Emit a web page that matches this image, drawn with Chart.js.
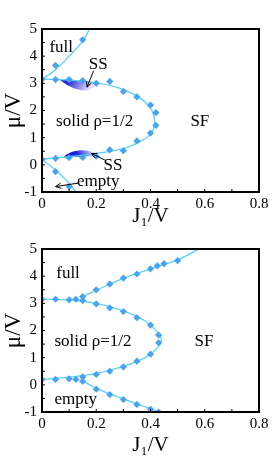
<!DOCTYPE html>
<html>
<head>
<meta charset="utf-8">
<script src="https://cdn.jsdelivr.net/npm/chart.js@4.4.0/dist/chart.umd.min.js"></script>
<style>
  html, body { margin: 0; padding: 0; background: #fff; }
  .box { position: absolute; left: 0; width: 273px; height: 229px; }
</style>
</head>
<body>
<div class="box" style="top:0"><canvas id="topChart" width="273" height="229"></canvas></div>
<div class="box" style="top:229px"><canvas id="bottomChart" width="273" height="229"></canvas></div>
<script>
// ---- top panel data ----
const topPtsJ  = [0, 0.05, 0.1, 0.15, 0.2, 0.25, 0.3, 0.35, 0.4, 0.42, 0.42, 0.4, 0.35, 0.3, 0.25, 0.2, 0.15, 0.1, 0.05, 0, 0.05, 0.15, 0.05, 0.1];
const topPtsMu = [3.15, 3.14, 3.14, 3.1, 3.0, 3.07, 2.7, 2.5, 2.2, 1.92, 1.45, 1.17, 0.88, 0.52, 0.55, 0.32, 0.27, 0.26, 0.24, 0.21, 3.66, 4.6, -0.25, -0.8];
const topCurveJ  = [0, 0.1, 0.2, 0.3, 0.37, 0.405, 0.415, 0.405, 0.37, 0.3, 0.2, 0.1, 0];
const topCurveMu = [3.15, 3.12, 3.02, 2.78, 2.4, 2.0, 1.6, 1.2, 0.9, 0.6, 0.42, 0.3, 0.21];
const topFullJ  = [0, 0.05, 0.1, 0.15, 0.175];
const topFullMu = [3.15, 3.5, 4.0, 4.55, 5.0];
const topEmptyJ  = [0, 0.05, 0.1, 0.124];
const topEmptyMu = [0.21, -0.2, -0.68, -1.0];
const ssUpJ  = [0.065, 0.1, 0.15, 0.2, 0.19, 0.165, 0.13, 0.09, 0.065];
const ssUpMu = [3.13, 3.12, 3.08, 3.02, 2.85, 2.74, 2.78, 2.96, 3.13];
const ssLowJ  = [0.078, 0.12, 0.16, 0.2, 0.19, 0.16, 0.12, 0.09, 0.078];
const ssLowMu = [0.27, 0.29, 0.31, 0.35, 0.45, 0.53, 0.5, 0.38, 0.27];

// ---- bottom panel data ----
const botPtsJ  = [0, 0.05, 0.1, 0.125, 0.15, 0.15, 0.2, 0.25, 0.3, 0.35, 0.4, 0.43, 0.43, 0.4, 0.35, 0.3, 0.25, 0.2, 0.15, 0.15, 0.125, 0.1, 0.05, 0,
                  0.2, 0.25, 0.3, 0.35, 0.4, 0.425, 0.45, 0.5, 0.2, 0.25, 0.3, 0.35, 0.4, 0.43];
const botPtsMu = [3.15, 3.15, 3.13, 3.15, 3.25, 3.1, 2.98, 2.83, 2.7, 2.47, 2.2, 1.83, 1.55, 1.13, 0.87, 0.66, 0.5, 0.38, 0.29, 0.13, 0.2, 0.22, 0.2, 0.2,
                  3.5, 3.71, 3.93, 4.08, 4.27, 4.38, 4.46, 4.57, -0.16, -0.36, -0.54, -0.72, -0.9, -1.0];
const botCurveJ  = [0, 0.1, 0.2, 0.3, 0.38, 0.425, 0.44, 0.425, 0.38, 0.3, 0.2, 0.1, 0];
const botCurveMu = [3.15, 3.12, 3.0, 2.72, 2.35, 1.95, 1.65, 1.35, 1.0, 0.68, 0.42, 0.28, 0.2];
const botFullJ  = [0.15, 0.2, 0.3, 0.4, 0.5, 0.58];
const botFullMu = [3.24, 3.48, 3.92, 4.27, 4.6, 5.0];
const botEmptyJ  = [0.15, 0.2, 0.3, 0.4, 0.44];
const botEmptyMu = [0.15, -0.13, -0.52, -0.88, -1.0];

const xTicks = [0, 0.2, 0.4, 0.6, 0.8];
const yTicks = [-1, 0, 1, 2, 3, 4, 5];

const ptColor = '#4aa3f0';
const lineColor = '#5ad2f6';
const serif = '"Liberation Serif", "DejaVu Serif", serif';

const zip = (xs, ys) => xs.map((x, i) => ({x: x, y: ys[i]}));

function lineSet(xs, ys) {
  return { type: 'line', data: zip(xs, ys), borderColor: lineColor, borderWidth: 1.3,
           pointRadius: 0, tension: 0.4, fill: false, order: 2 };
}
function pointSet(xs, ys) {
  return { type: 'scatter', data: zip(xs, ys), backgroundColor: ptColor, borderColor: ptColor,
           pointStyle: 'rectRot', pointRadius: 3.6, borderWidth: 0, order: 1 };
}
function blobSet(xs, ys, c0, c1, from, to) {
  return { type: 'line', data: zip(xs, ys), borderWidth: 0, pointRadius: 0, tension: 0.35,
           fill: 'shape', order: 3,
           backgroundColor: (ctx) => {
             const ch = ctx.chart;
             if (!ch.chartArea) return c0;
             const sx = ch.scales.x, sy = ch.scales.y;
             const g = ch.ctx.createLinearGradient(sx.getPixelForValue(from[0]), sy.getPixelForValue(from[1]),
                                                   sx.getPixelForValue(to[0]), sy.getPixelForValue(to[1]));
             g.addColorStop(0, c0);
             g.addColorStop(1, c1);
             return g;
           } };
}

// frame, inner ticks, labels and arrows
const decor = {
  id: 'decor',
  afterDatasetsDraw(chart, args, opts) {
    const {ctx, chartArea: a, scales: {x, y}} = chart;
    ctx.save();
    ctx.strokeStyle = '#000';
    ctx.lineWidth = 1;
    for (let v = 0.1; v < 0.8; v += 0.1) {
      const px = x.getPixelForValue(v);
      ctx.beginPath(); ctx.moveTo(px, a.bottom); ctx.lineTo(px, a.bottom - 3); ctx.stroke();
    }
    for (let v = -0.5; v < 5; v += 0.5) {
      const py = y.getPixelForValue(v);
      ctx.beginPath(); ctx.moveTo(a.left, py); ctx.lineTo(a.left + 3, py); ctx.stroke();
    }
    ctx.lineWidth = 2;
    ctx.strokeRect(a.left, a.top, a.right - a.left, a.bottom - a.top);
    ctx.fillStyle = '#000';
    ctx.font = '17px ' + serif;
    ctx.textAlign = 'center';
    ctx.textBaseline = 'middle';
    opts.labels.forEach(l => ctx.fillText(l[0], x.getPixelForValue(l[1]), y.getPixelForValue(l[2])));
    ctx.lineWidth = 1;
    opts.arrows.forEach(r => {
      const x0 = x.getPixelForValue(r[0]), y0 = y.getPixelForValue(r[1]);
      const x1 = x.getPixelForValue(r[2]), y1 = y.getPixelForValue(r[3]);
      ctx.beginPath(); ctx.moveTo(x0, y0); ctx.lineTo(x1, y1); ctx.stroke();
      const ang = Math.atan2(y1 - y0, x1 - x0);
      ctx.beginPath();
      ctx.moveTo(x1 - 6 * Math.cos(ang - 0.45), y1 - 6 * Math.sin(ang - 0.45));
      ctx.lineTo(x1, y1);
      ctx.lineTo(x1 - 6 * Math.cos(ang + 0.45), y1 - 6 * Math.sin(ang + 0.45));
      ctx.stroke();
    });
    ctx.restore();
  }
};

function makeOptions(padTop, xHeight, labels, arrows) {
  return {
    responsive: false,
    animation: false,
    layout: { padding: { top: padTop, right: 14, left: 0, bottom: 0 } },
    plugins: { legend: { display: false }, tooltip: { enabled: false },
               decor: { labels: labels, arrows: arrows } },
    scales: {
      x: { type: 'linear', min: 0, max: 0.8,
           afterFit: s => { s.height = xHeight; },
           afterBuildTicks: s => { s.ticks = xTicks.map(v => ({value: v})); },
           grid: { display: false, drawTicks: false }, border: { display: false },
           ticks: { color: '#000', font: { family: serif, size: 15 }, padding: 3,
                    maxRotation: 0, callback: v => String(Math.round(v * 10) / 10) },
           title: { display: true, text: 'J₁/V', color: '#000', font: { family: serif, size: 21 }, padding: { top: -4, bottom: 0 } } },
      y: { type: 'linear', min: -1, max: 5,
           afterFit: s => { s.width = 42; },
           afterBuildTicks: s => { s.ticks = yTicks.map(v => ({value: v})); },
           grid: { display: false, drawTicks: false }, border: { display: false },
           ticks: { color: '#000', font: { family: serif, size: 15 }, padding: 5 },
           title: { display: true, text: 'μ/V', color: '#000', font: { family: serif, size: 23 }, padding: { top: 0, bottom: 0 } } }
    }
  };
}

new Chart(document.getElementById('topChart'), {
  type: 'scatter',
  data: { datasets: [
    blobSet(ssUpJ, ssUpMu, '#2828d8', '#e4e0f8', [0.1, 3.12], [0.17, 2.74]),
    blobSet(ssLowJ, ssLowMu, '#1c1cdc', '#c8c2f4', [0.13, 0.33], [0.18, 0.55]),
    lineSet(topCurveJ, topCurveMu),
    lineSet(topFullJ, topFullMu),
    lineSet(topEmptyJ, topEmptyMu),
    pointSet(topPtsJ, topPtsMu)
  ] },
  options: makeOptions(29, 37,
    [['full', 0.071, 4.3], ['SS', 0.207, 3.7], ['solid ρ=1/2', 0.194, 1.6], ['SF', 0.582, 1.6],
     ['SS', 0.262, -0.02], ['empty', 0.207, -0.62]],
    [[0.19, 3.46, 0.166, 2.86], [0.237, 0.15, 0.182, 0.42], [0.135, -0.67, 0.05, -0.8]]),
  plugins: [decor]
});

new Chart(document.getElementById('bottomChart'), {
  type: 'scatter',
  data: { datasets: [
    lineSet(botCurveJ, botCurveMu),
    lineSet(botFullJ, botFullMu),
    lineSet(botEmptyJ, botEmptyMu),
    pointSet(botPtsJ, botPtsMu)
  ] },
  options: makeOptions(20, 46,
    [['full', 0.096, 4.1], ['solid ρ=1/2', 0.188, 1.6], ['SF', 0.597, 1.6], ['empty', 0.124, -0.54]],
    []),
  plugins: [decor]
});
</script>
</body>
</html>
